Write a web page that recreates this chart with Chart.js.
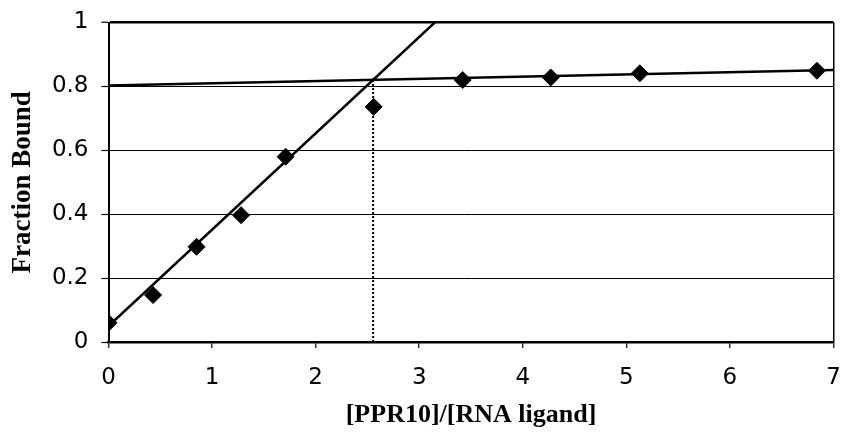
<!DOCTYPE html>
<html><head><meta charset="utf-8">
<script src="https://cdn.jsdelivr.net/npm/chart.js@4"></script>
<style>html,body{margin:0;padding:0;background:#fff}#wrap{width:843px;height:432px}</style>
</head><body><div id="wrap"><canvas id="c" width="843" height="432"></canvas></div>
<script>
// Data
const ratioX        = [0, 0.43, 0.85, 1.28, 1.71, 2.56, 3.42, 4.27, 5.13, 6.84];
const fractionBound = [0.06, 0.147, 0.298, 0.397, 0.58, 0.736, 0.82, 0.828, 0.841, 0.849];
const riseLineX     = [0, 3.15];
const riseLineY     = [0.05, 1.0];
const plateauLineX  = [0, 7];
const plateauLineY  = [0.803, 0.851];
const dropLineX     = [2.555, 2.555];
const dropLineY     = [0, 0.82];
const xTickValues   = [0, 1, 2, 3, 4, 5, 6, 7];
const yTickValues   = [0, 0.2, 0.4, 0.6, 0.8, 1];
const yTickLabels   = ['0', '0.2', '0.4', '0.6', '0.8', '1'];
const xTitle = '[PPR10]/[RNA ligand]';
const yTitle = 'Fraction Bound';

const toPts = (xs, ys) => xs.map((x, i) => ({x: x, y: ys[i]}));

new Chart(document.getElementById('c'), {
  type: 'scatter',
  data: {
    datasets: [
      { data: toPts(riseLineX, riseLineY), showLine: true, borderColor: '#000', borderWidth: 2.5, pointRadius: 0, order: 2 },
      { data: toPts(plateauLineX, plateauLineY), showLine: true, borderColor: '#000', borderWidth: 2.5, pointRadius: 0, order: 2 },
      { data: toPts(dropLineX, dropLineY), showLine: true, borderColor: '#000', borderWidth: 2, borderDash: [2, 2], pointRadius: 0, order: 2 },
      { data: toPts(ratioX, fractionBound), showLine: false, pointStyle: 'rectRot', pointRadius: 8.5, pointBackgroundColor: '#000', pointBorderColor: '#000', pointBorderWidth: 1, order: 1 }
    ]
  },
  options: {
    responsive: false,
    animation: false,
    devicePixelRatio: 1,
    layout: { padding: { top: 22.5, right: 6.5, left: 0, bottom: 0 } },
    plugins: { legend: { display: false }, tooltip: { enabled: false } },
    scales: {
      x: {
        type: 'linear', min: 0, max: 7,
        afterBuildTicks: s => { s.ticks = xTickValues.map(v => ({value: v})); },
        afterFit: s => { s.height = 90; s.paddingRight = 0; s.paddingLeft = 0; },
        border: { display: true, color: '#000', width: 2.5 },
        grid: {
          color: c => (c.tick && c.tick.value === 7) ? '#000' : 'rgba(0,0,0,0)',
          lineWidth: 1.5, drawTicks: true, tickLength: 6, tickColor: '#000', tickWidth: 1.2
        },
        ticks: { color: '#000', padding: 16, font: { family: 'DejaVu Sans', size: 23 }, maxRotation: 0 },
        title: { display: true, text: xTitle, color: '#000', padding: { top: 0, bottom: 1 },
                 font: { family: 'Liberation Serif', size: 26, weight: 'bold', lineHeight: 1.2 } }
      },
      y: {
        type: 'linear', min: 0, max: 1,
        afterBuildTicks: s => { s.ticks = yTickValues.map(v => ({value: v})); },
        afterFit: s => { s.width = 108.5; s.paddingTop = 0; s.paddingBottom = 0; },
        border: { display: true, color: '#000', width: 2 },
        grid: {
          color: '#000',
          lineWidth: c => (c.tick && c.tick.value === 1) ? 2.5 : 1,
          drawTicks: true, tickLength: 7, tickColor: '#000', tickWidth: 1.2
        },
        ticks: { color: '#000', padding: 13, font: { family: 'DejaVu Sans', size: 23 },
                 callback: (v, i) => yTickLabels[i] },
        title: { display: true, text: yTitle, color: '#000', padding: { top: 7, bottom: 0 },
                 font: { family: 'Liberation Serif', size: 27, weight: 'bold', lineHeight: 1.2 } }
      }
    }
  }
});
</script>
</body></html>
